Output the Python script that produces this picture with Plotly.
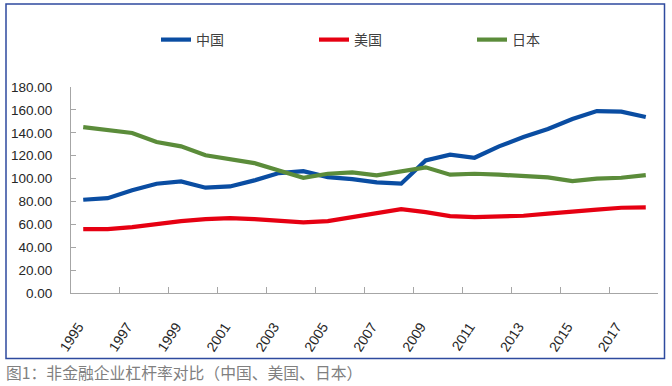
import plotly.graph_objects as go

years = list(range(1995, 2019))
china = [81.5, 82.9, 89.7, 95.5, 97.5, 92.0, 93.1, 98.4, 104.8, 106.5, 101.3, 99.5,
         96.6, 95.5, 115.9, 120.8, 118.2, 128.1, 136.3, 143.3, 152.0, 159.0, 158.5, 153.8]
usa = [55.8, 55.8, 57.6, 60.5, 62.8, 64.6, 65.4, 64.6, 62.8, 61.7, 62.8, 66.3,
       70.7, 73.3, 70.7, 67.2, 66.3, 66.8, 67.5, 69.3, 70.7, 72.8, 74.5, 74.8]
japan = [145.0, 142.7, 139.8, 131.9, 128.1, 120.3, 116.5, 113.5, 107.1, 100.7, 104.2, 105.4,
         102.8, 106.5, 109.8, 103.4, 104.2, 103.4, 102.5, 101.0, 97.8, 99.9, 100.7, 103.0]
series_names = ["中国", "美国", "日本"]
colors = ["#0a4da2", "#e60012", "#5b8c3a"]
x_labels = [str(y) for y in range(1995, 2018, 2)]
caption = "图1：非金融企业杠杆率对比（中国、美国、日本）"

W, H = 672, 386
L, R, T, B = 71, 14, 87, 93
PW, PH = W - L - R, H - T - B

def px(x):
    return (x - L) / PW

def py(y):
    return (H - B - y) / PH

fig = go.Figure()
for name, vals, c in zip(series_names, [china, usa, japan], colors):
    fig.add_trace(go.Scatter(x=years, y=vals, name=name, mode="lines",
                             line=dict(color=c, width=4.2)))

# tick marks sit on the boundaries between every second category;
# the rotated labels are anchored a little right of each boundary
tick_marks = [years[0] - 0.5 + 2 * i for i in range(len(years) // 2 + 1)]
label_pos = [int(lbl) - 0.2 for lbl in x_labels]

fig.update_layout(
    width=W, height=H,
    margin=dict(l=L, r=R, t=T, b=B),
    paper_bgcolor="white", plot_bgcolor="white",
    showlegend=True,
    legend=dict(orientation="h", x=px(156), xanchor="left", y=py(40), yanchor="middle",
                font=dict(family="Noto Sans CJK SC, sans-serif", size=14, color="#404040"),
                entrywidth=113, entrywidthmode="pixels", bgcolor="rgba(0,0,0,0)"),
    xaxis=dict(range=[years[0] - 0.5, years[-1] + 0.5], tickmode="array",
               tickvals=label_pos, ticktext=x_labels,
               tickangle=-57, ticks="inside", ticklen=0,
               ticklabelstandoff=19,
               showline=True, linecolor="#a6a6a6", linewidth=1,
               showgrid=False, zeroline=False,
               tickfont=dict(family="Liberation Sans, Arial, sans-serif", size=14, color="#262626"),
               minor=dict(tickmode="array", tickvals=tick_marks, ticks="inside", ticklen=6,
                          tickcolor="#a6a6a6", showgrid=False)),
    yaxis=dict(range=[0, 180], dtick=20, tick0=0, tickformat=".2f",
               ticks="inside", ticklen=5, tickcolor="#a6a6a6", ticklabelstandoff=15,
               showline=True, linecolor="#a6a6a6", linewidth=1,
               showgrid=False, zeroline=False,
               tickfont=dict(family="Liberation Sans, Arial, sans-serif", size=13.5, color="#262626")),
    shapes=[dict(type="rect", xref="paper", yref="paper",
                 x0=px(6), x1=px(664.5), y0=py(358.5), y1=py(4),
                 line=dict(color="#2e4a9e", width=1.5))],
    annotations=[dict(text=caption, xref="paper", yref="paper", x=px(4), y=py(372),
                      xanchor="left", yanchor="middle", showarrow=False,
                      font=dict(family="Noto Sans CJK SC, sans-serif", size=15.8, color="#808080"))],
)

fig.write_html("out.html", config={"displayModeBar": False},
               post_script="document.body.style.margin='0px';")
